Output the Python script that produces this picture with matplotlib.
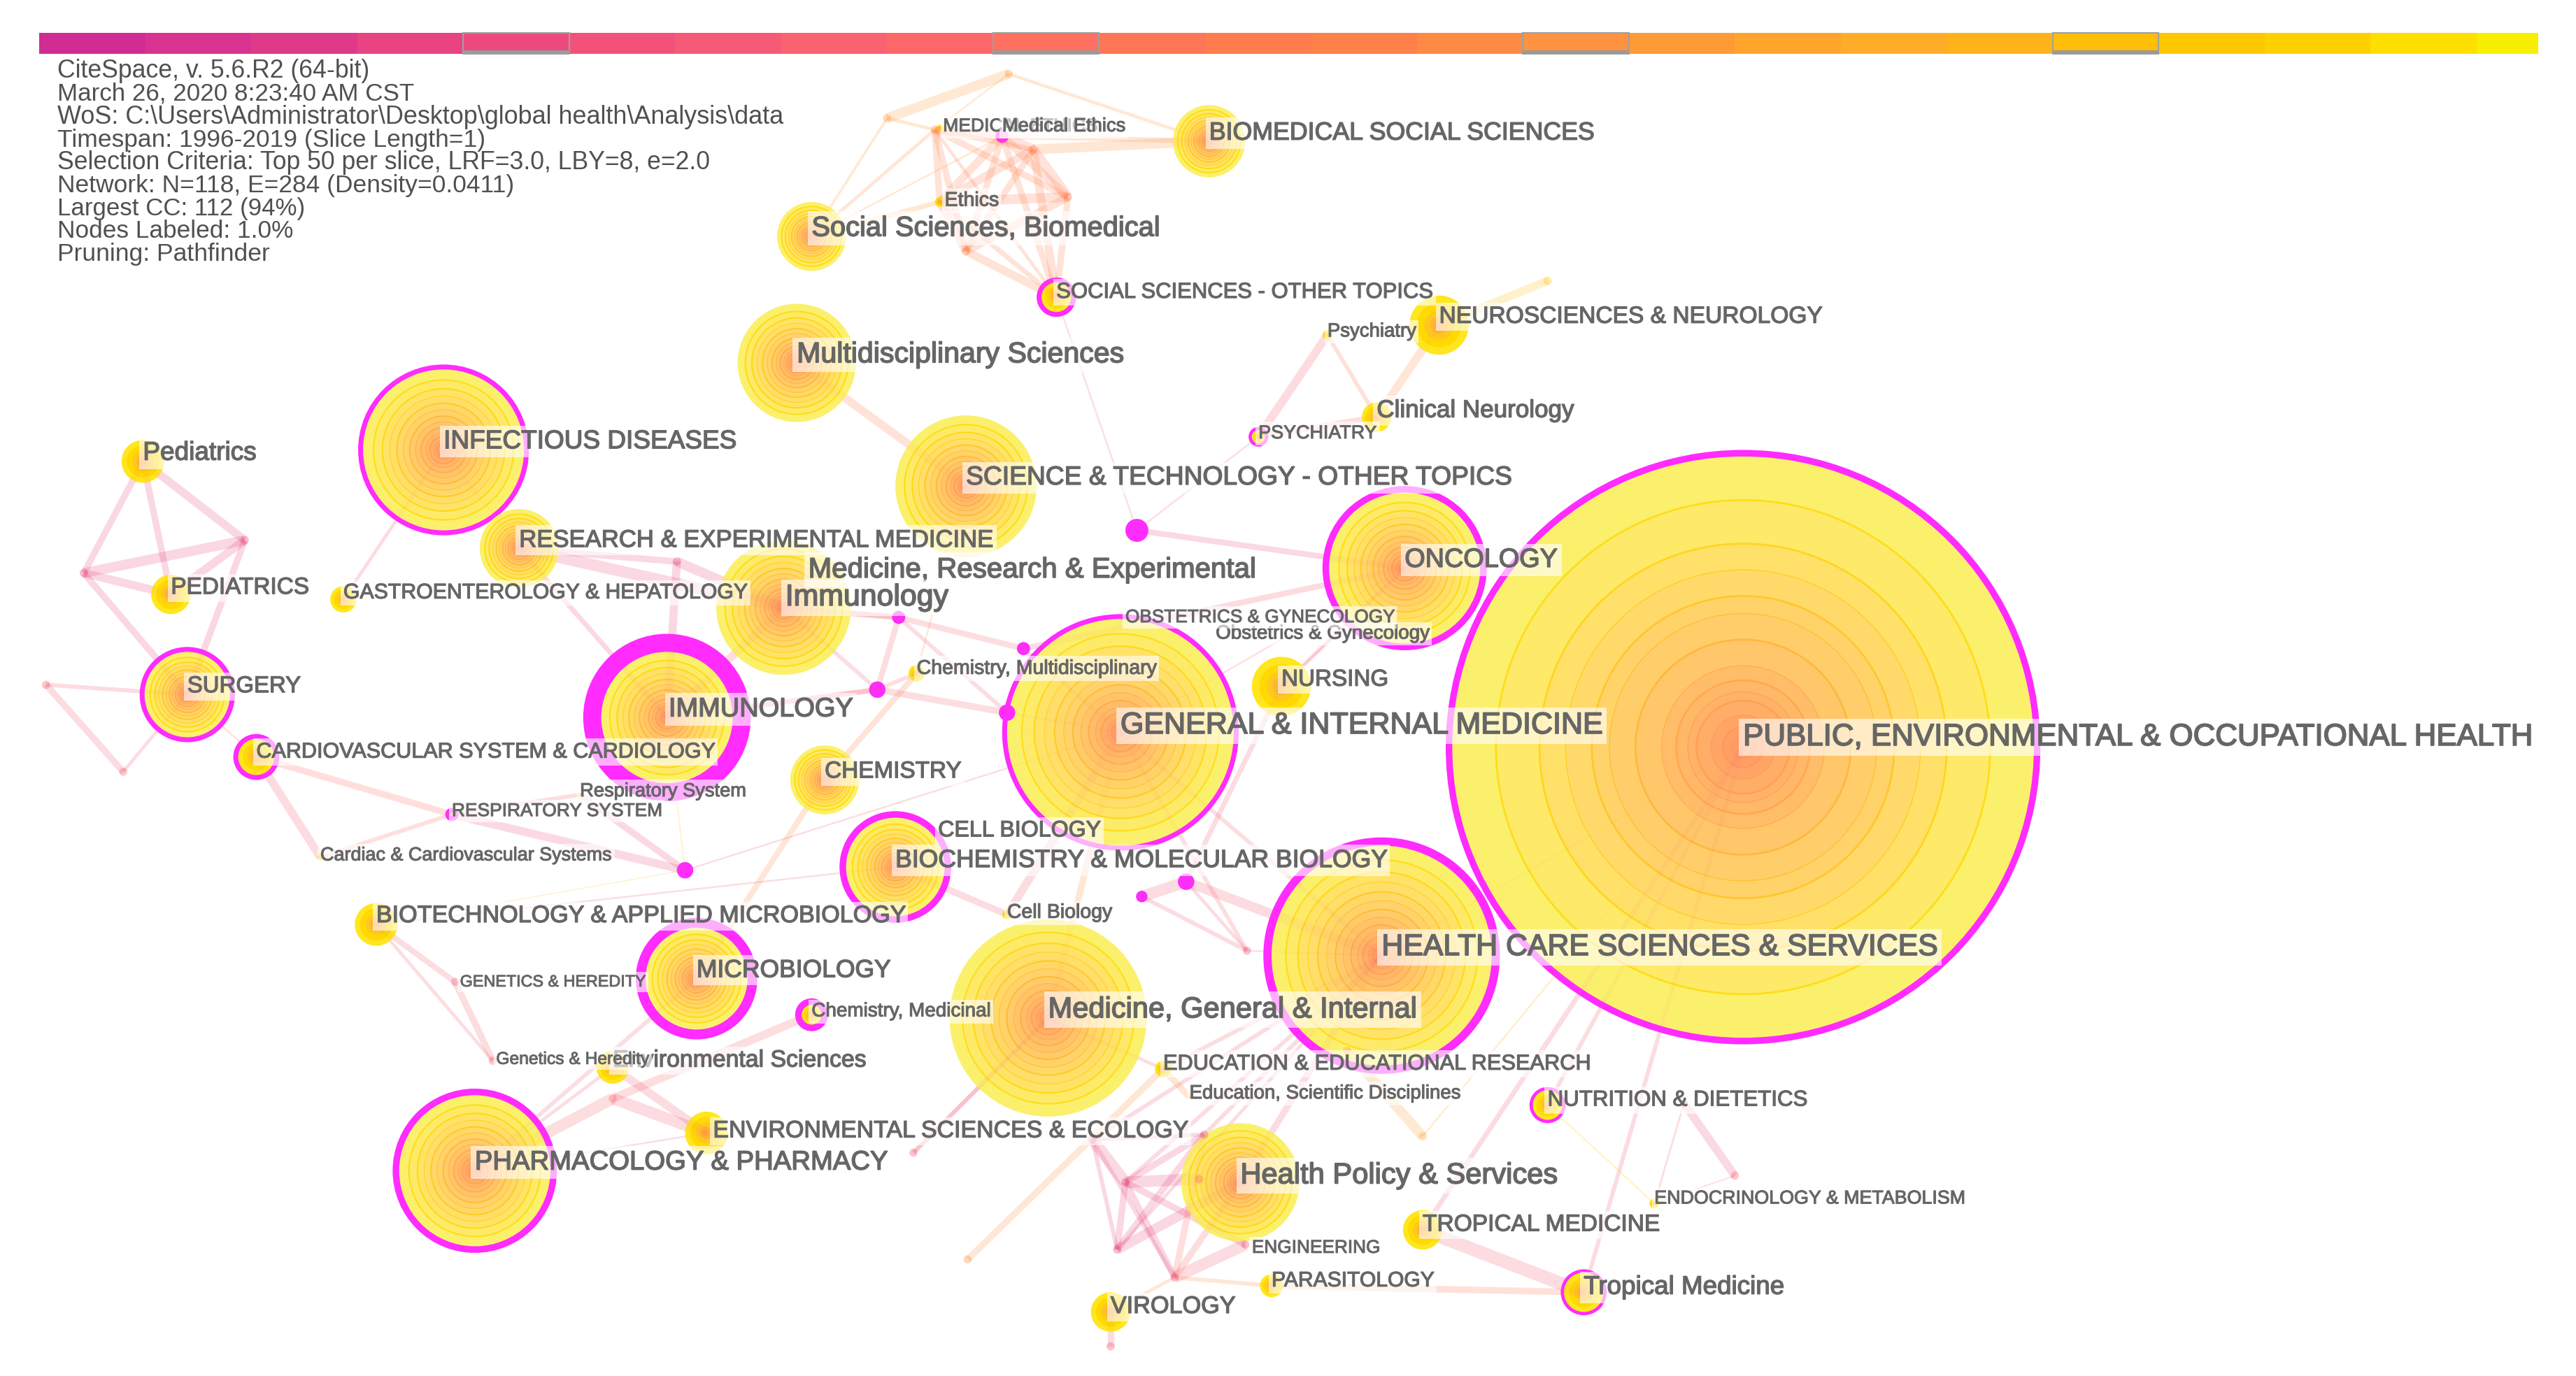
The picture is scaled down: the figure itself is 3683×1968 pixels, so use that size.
#!/usr/bin/env python3

import matplotlib
matplotlib.use("Agg")
import matplotlib.pyplot as plt
import matplotlib.patheffects as pe
from matplotlib.colors import LinearSegmentedColormap
from matplotlib.patches import Circle

plt.rcParams['font.family'] = ['Liberation Sans', 'DejaVu Sans']

# coordinates below in a 1568 x 838 frame
FRAME_W, FRAME_H = 1568, 838
PX = 3683 / FRAME_W * 72 / 100  # frame units -> points

years = list(range(1996, 2020))
year_colors = ['#D12C93', '#D93391', '#DF3A8A', '#E84481', '#EC4A7E', '#F2527A',
               '#F55A76', '#F86271', '#FC686A', '#FF7060', '#FF7558', '#FF7C4F',
               '#FF8049', '#FF8A43', '#FF9240', '#FF9B35', '#FFA52C', '#FFAD28',
               '#FFB31A', '#FFBE08', '#FFC700', '#FFD000', '#FFDF00', '#F8EE00']
framed_years = [2000, 2005, 2010, 2015]

info_lines = ['CiteSpace, v. 5.6.R2 (64-bit)',
              'March 26, 2020 8:23:40 AM CST',
              'WoS: C:\\Users\\Administrator\\Desktop\\global health\\Analysis\\data',
              'Timespan: 1996-2019 (Slice Length=1)',
              'Selection Criteria: Top 50 per slice, LRF=3.0, LBY=8, e=2.0',
              'Network: N=118, E=284 (Density=0.0411)',
              'Largest CC: 112 (94%)',
              'Nodes Labeled: 1.0%',
              'Pruning: Pathfinder']
info_y = [43.2, 57, 71.2, 85.4, 99, 113, 126.9, 140.7, 154.7]
info_right = [225, 252, 476, 295, 433, 313, 186, 178, 164]

# labelled nodes
node_names = ['PH', 'HC', 'GIM', 'MGI', 'HP', 'PHARM', 'IMMU', 'INF', 'ONC', 'STOT', 'MULTI',
              'REM', 'Immu', 'BIOCH', 'MICRO', 'SURG', 'CHEM', 'CARD', 'BIOTECH', 'SSB', 'BSS',
              'SSOT', 'NEURO', 'ClinN', 'Psy', 'PSY', 'Ped', 'PED', 'GASTRO', 'RESP', 'Resp',
              'CardS', 'NURS', 'ChemM', 'CellB', 'Env', 'ChemMed', 'ESE', 'EDU', 'EduS', 'NUTR',
              'ENDO', 'TROP', 'PARA', 'Trop', 'VIRO', 'Ethics', 'MEDE', 'MedE']
node_x = [1061, 841, 682, 638, 755, 289, 406, 270, 855, 588, 485,
          316, 477, 545, 424, 114, 502, 156, 229, 494, 736,
          643, 876, 838, 808, 766, 87, 104, 209, 275, 353,
          195, 780, 558, 613, 373, 494, 430, 708, 724, 942,
          1007, 866, 774, 964, 676, 572, 572, 610]
node_y = [455, 582, 446, 620, 720, 713, 437, 274, 346, 296, 221,
          334, 370, 528, 596, 423, 475, 461, 563, 144, 86,
          181, 198, 254, 204, 266, 281, 362, 365, 496, 484,
          522, 418, 410, 557, 650, 618, 690, 651, 668, 673,
          733, 749, 783, 787, 799, 123, 78, 83]
node_r = [181, 72, 72, 60, 36, 50, 51, 52, 50, 43, 36,
          24, 41, 34, 37, 29, 21, 14, 13, 21, 22,
          12, 18, 9, 3, 6, 13, 12, 8, 4, 1,
          2, 18, 5, 3, 10, 10, 13, 5, 1, 11,
          3, 12, 7, 14, 12, 3, 2, 4]
node_burst = [4, 5, 3, 0, 0, 4, 11, 3, 4, 0, 0,
              0, 0, 4, 6, 3, 0, 3, 0, 0, 0,
              3, 0, 0, 0, 2, 0, 0, 0, 3, 0,
              0, 0, 0, 0, 0, 4, 0, 0, 0, 2,
              0, 0, 0, 2, 0, 0, 0, 4]

# unlabelled purple nodes and the faint junction nodes
dot_names = ['d1', 'd2', 'd3', 'd4', 'd5', 'd6', 'd7', 'd8']
dot_x = [692, 547, 534, 623, 613, 417, 722, 695]
dot_y = [323, 376, 420, 395, 434, 530, 537, 546]
dot_r = [7, 4, 5, 4, 5, 5, 5, 3.5]

junction_names = ['a', 'b', 'c', 'e', 'f', 'h', 'p1', 'p2', 's1', 's2', 'r1', 'l1', 'g1', 'g2',
                  'k1', 'k2', 'k3', 'k4', 'k5', 'k6', 'k7', 'm1', 'm2', 'm3', 'v1', 'q1', 'q2',
                  'q3', 'n1', 'y1']
junction_x = [614, 540, 569, 629, 650, 588, 149, 51, 28, 75, 412, 373, 277, 300,
              665, 685, 680, 715, 733, 730, 758, 759, 556, 589, 676, 866, 1056, 1025,
              820, 942]
junction_y = [45, 72, 79, 91, 120, 153, 329, 349, 417, 470, 342, 669, 598, 646,
              694, 720, 761, 778, 691, 718, 758, 579, 702, 767, 820, 692, 716, 672,
              640, 171]
junction_slice = [15, 15, 14, 11, 11, 11, 4, 4, 7, 7, 4, 8, 7, 7, 4, 3, 3, 3, 5, 9, 5, 5, 6, 14, 6, 17, 7, 7, 15, 20]

# edges: from, to, width, time slice of first co-occurrence
edges_top = [('b', 'a', 6, 15), ('a', 'BSS', 2, 15), ('b', 'c', 2, 15), ('b', 'SSB', 1.5, 15),
             ('a', 'c', 1, 15), ('c', 'SSB', 2, 13), ('MedE', 'BSS', 3, 13), ('e', 'BSS', 6, 14),
             ('Ethics', 'SSB', 3, 15), ('MedE', 'SSB', 1, 15), ('c', 'MedE', 5, 12), ('c', 'e', 3, 12),
             ('c', 'f', 4, 12), ('c', 'Ethics', 4, 12), ('c', 'h', 4, 12), ('c', 'SSOT', 2, 12),
             ('MedE', 'e', 6, 11), ('MedE', 'f', 5, 11), ('MedE', 'Ethics', 5, 12), ('MedE', 'h', 4, 12),
             ('MedE', 'SSOT', 4, 12), ('e', 'f', 6, 11), ('e', 'Ethics', 5, 11), ('e', 'h', 4, 12),
             ('e', 'SSOT', 5, 12), ('f', 'Ethics', 6, 11), ('f', 'h', 5, 12), ('f', 'SSOT', 4, 12),
             ('Ethics', 'h', 5, 12), ('Ethics', 'SSOT', 3, 12), ('h', 'SSOT', 5, 12),
             ('MULTI', 'STOT', 5, 12), ('SSOT', 'd1', 1, 8), ('d1', 'PSY', 1, 8), ('d1', 'ONC', 3.5, 5),
             ('PSY', 'Psy', 5, 6), ('Psy', 'ClinN', 2.5, 10), ('PSY', 'ClinN', 3.5, 8), ('ClinN', 'NEURO', 5, 13),
             ('NEURO', 'y1', 5, 19)]

edges_left = [('Ped', 'p1', 5, 4), ('Ped', 'p2', 4, 4), ('Ped', 'PED', 4, 4), ('p1', 'p2', 6, 3),
              ('p2', 'PED', 5, 3), ('p1', 'PED', 5, 3), ('p2', 'SURG', 4, 3), ('p1', 'SURG', 4, 3),
              ('SURG', 's1', 2.5, 6), ('s1', 's2', 4, 6), ('s2', 'SURG', 2, 6), ('SURG', 'CARD', 1, 11),
              ('CARD', 'RESP', 4, 9), ('CARD', 'CardS', 5, 6), ('RESP', 'CardS', 2.5, 9), ('RESP', 'd6', 5, 5),
              ('RESP', 'Resp', 2.5, 7), ('d6', 'Resp', 4, 5), ('IMMU', 'd6', 0.8, 20), ('d6', 'BIOTECH', 0.6, 20),
              ('d6', 'GIM', 1, 7), ('INF', 'GASTRO', 2, 6), ('INF', 'REM', 1, 10),
              ('REM', 'Immu', 7, 5), ('REM', 'r1', 4, 5), ('r1', 'Immu', 6, 4), ('r1', 'IMMU', 5, 4),
              ('REM', 'IMMU', 3, 5), ('IMMU', 'Immu', 5, 7)]

edges_mid = [('Immu', 'd2', 3.5, 7), ('d2', 'd3', 3.5, 7), ('d2', 'd4', 3.5, 7), ('d2', 'd5', 2.5, 7),
             ('d3', 'Immu', 2.5, 7), ('d3', 'd5', 4, 7), ('d3', 'IMMU', 3.5, 7), ('d4', 'GIM', 2.5, 7),
             ('d4', 'ONC', 3.5, 6), ('d5', 'GIM', 1, 7), ('d2', 'Immu', 3, 7), ('IMMU', 'd3', 2.5, 7),
             ('CHEM', 'ChemM', 3.5, 12), ('ChemM', 'd3', 2.5, 9), ('ChemM', 'STOT', 1, 14),
             ('CHEM', 'MICRO', 3.5, 13), ('BIOCH', 'BIOTECH', 1, 7), ('BIOCH', 'CellB', 4, 6),
             ('GIM', 'CellB', 5, 6), ('GIM', 'MGI', 4, 14), ('d7', 'd8', 7, 6), ('d7', 'HC', 6, 6),
             ('d8', 'm1', 2.5, 6), ('d7', 'm1', 2, 6), ('GIM', 'm1', 2.5, 8), ('m1', 'HC', 1, 7),
             ('NURS', 'd7', 3, 6), ('NURS', 'ONC', 2.5, 7), ('GIM', 'ONC', 1, 9), ('ONC', 'NURS', 1, 7),
             ('GIM', 'HC', 2.5, 8)]

edges_low = [('PH', 'Trop', 2.5, 6), ('PH', 'TROP', 3, 6), ('PH', 'NUTR', 2.5, 7), ('PH', 'q1', 1, 18),
             ('PH', 'HC', 1, 11), ('HC', 'k1', 2.5, 6), ('HC', 'k2', 2.5, 6), ('HC', 'HP', 4, 6),
             ('HC', 'k5', 2.5, 6), ('HC', 'k3', 2, 6), ('HC', 'EDU', 2.5, 8), ('MGI', 'EDU', 2, 8),
             ('EDU', 'EduS', 4, 14), ('EDU', 'm3', 4, 14), ('MGI', 'm2', 2.5, 6), ('MGI', 'm2', 2.5, 7),
             ('k1', 'k2', 7, 5), ('k1', 'k3', 2.5, 4), ('k1', 'k5', 2.5, 5), ('k1', 'k4', 2.5, 4),
             ('k2', 'k5', 4, 4), ('k2', 'k6', 7, 4), ('k2', 'k3', 4, 3), ('k2', 'k4', 4, 3),
             ('k2', 'k7', 4, 3), ('k3', 'k5', 4, 3), ('k3', 'HP', 6, 3), ('k4', 'k7', 7, 6),
             ('k4', 'k5', 4, 9), ('k4', 'HP', 4, 8), ('VIRO', 'v1', 4, 6), ('VIRO', 'k4', 2, 14),
             ('PARA', 'k4', 2.5, 14), ('PARA', 'Trop', 4, 10), ('TROP', 'Trop', 8, 6),
             ('NUTR', 'ENDO', 1, 21), ('q3', 'q2', 5, 5), ('q3', 'ENDO', 1.2, 8), ('q2', 'ENDO', 0.8, 9),
             ('n1', 'q1', 6, 15), ('BIOTECH', 'g1', 3.5, 7), ('BIOTECH', 'g2', 2, 7), ('g1', 'g2', 4, 7),
             ('MICRO', 'PHARM', 2.5, 7), ('Env', 'PHARM', 2, 7), ('PHARM', 'l1', 7, 8), ('l1', 'ChemMed', 5, 8),
             ('l1', 'ESE', 7, 6), ('Env', 'ESE', 5, 6), ('PHARM', 'ESE', 1, 7)]

# label text, left end, middle height, right end; later ones lie on top of earlier ones
label_text = ['MEDICAL ETHICS', 'Environmental Sciences', 'Medical Ethics', 'Ethics',
              'Genetics & Heredity', 'GENETICS & HEREDITY', 'Cardiac & Cardiovascular Systems',
              'Respiratory System', 'RESPIRATORY SYSTEM', 'Obstetrics & Gynecology',
              'OBSTETRICS & GYNECOLOGY', 'Chemistry, Multidisciplinary', 'Cell Biology', 'CELL BIOLOGY',
              'Chemistry, Medicinal', 'Education, Scientific Disciplines', 'ENDOCRINOLOGY & METABOLISM',
              'ENGINEERING', 'PARASITOLOGY', 'PSYCHIATRY', 'Psychiatry', 'Clinical Neurology',
              'GASTROENTEROLOGY & HEPATOLOGY', 'SOCIAL SCIENCES - OTHER TOPICS',
              'NUTRITION & DIETETICS', 'EDUCATION & EDUCATIONAL RESEARCH', 'Pediatrics', 'PEDIATRICS',
              'VIROLOGY', 'NURSING', 'TROPICAL MEDICINE', 'Tropical Medicine',
              'ENVIRONMENTAL SCIENCES & ECOLOGY', 'BIOTECHNOLOGY & APPLIED MICROBIOLOGY',
              'CARDIOVASCULAR SYSTEM & CARDIOLOGY', 'CHEMISTRY', 'SURGERY', 'MICROBIOLOGY',
              'NEUROSCIENCES & NEUROLOGY', 'BIOMEDICAL SOCIAL SCIENCES', 'Social Sciences, Biomedical',
              'Multidisciplinary Sciences', 'RESEARCH & EXPERIMENTAL MEDICINE',
              'Medicine, Research & Experimental', 'Immunology', 'BIOCHEMISTRY & MOLECULAR BIOLOGY',
              'IMMUNOLOGY', 'INFECTIOUS DISEASES', 'ONCOLOGY', 'SCIENCE & TECHNOLOGY - OTHER TOPICS',
              'PHARMACOLOGY & PHARMACY', 'Health Policy & Services', 'Medicine, General & Internal',
              'GENERAL & INTERNAL MEDICINE', 'HEALTH CARE SCIENCES & SERVICES',
              'PUBLIC, ENVIRONMENTAL & OCCUPATIONAL HEALTH']
label_left = [574, 373, 610, 575, 302, 280, 195, 353, 275, 740, 685, 558, 613, 571, 494, 724, 1007,
              762, 774, 766, 808, 838, 209, 643, 942, 708, 87, 104, 676, 780, 866, 964, 434, 229,
              156, 502, 114, 424, 876, 736, 494, 485, 316, 492, 478, 545, 407, 270, 855, 588, 289,
              755, 638, 682, 841, 1061]
label_y = [77, 646, 77, 122, 645, 598, 521, 482, 494, 386, 376, 407, 556, 506, 616, 666, 730, 760, 780,
           264, 202, 250, 361, 178, 670, 648, 276, 358, 796, 414, 746, 784, 689, 558, 458, 470, 418,
           591, 193, 81, 139, 216, 329, 347, 364, 524, 432, 269, 341, 291, 708, 716, 615, 442, 577, 449]
label_right = [668, 527, 685, 608, 395, 393, 372, 454, 403, 870, 849, 704, 677, 670, 603, 889, 1196,
               840, 873, 838, 862, 958, 455, 872, 1100, 968, 156, 188, 752, 845, 1010, 1086, 723, 551,
               435, 585, 183, 542, 1109, 970, 706, 684, 604, 764, 577, 844, 519, 448, 948, 920, 540,
               948, 862, 975, 1179, 1541]

# tree ring radii as a share of the node radius
rings_large = [1.0, .85, .70, .61, .52, .46, .37, .28, .23, .19, .16, .11, .07, .04]
rings_normal = [1.0, .87, .76, .67, .58, .5, .42, .35, .28, .22, .17, .12, .08, .04]
rings_small = [1.0, .75, .5, .3, .15]

fill_big = LinearSegmentedColormap.from_list('fill_big', ['#FF9564', '#FFB468', '#FFCA6A', '#FFD96A',
                                                          '#FFE668', '#FBF06C'])
fill_small = LinearSegmentedColormap.from_list('fill_small', ['#FF9A40', '#FFB030', '#FFC820', '#FFD900',
                                                              '#FFE61E'])
line_big = LinearSegmentedColormap.from_list('line_big', ['#FF9060', '#FFA94A', '#FFC225', '#FFD80C',
                                                          '#FFE00A'])


def fit_text(ax, text, left, y, right, color, zorder):
    # font size is set from the width the label has in the picture
    t = ax.text(left, y, text, color=color, ha='left', va='center', fontsize=20, zorder=zorder)
    renderer = ax.figure.canvas.get_renderer()
    width = t.get_window_extent(renderer).width / 3683 * FRAME_W
    t.set_fontsize(20 * (right - left) / width)
    return t


def draw_node(ax, x, y, r, burst):
    if burst > 0:
        ax.add_patch(Circle((x, y), r, fc='#FF2BFF', ec='none', zorder=2))
    inner = r - burst
    if inner <= 0:
        return
    if r > 100:
        fracs, fill, lw = rings_large, fill_big, 2.0
    elif r >= 20:
        fracs, fill, lw = rings_normal, fill_big, 1.6
    else:
        fracs, fill, lw = rings_small, fill_small, 0
    for i, f in enumerate(fracs):
        ax.add_patch(Circle((x, y), inner * f, fc=fill(f), ec='none', zorder=2))
        if lw > 0 and f < 1:
            # every other ring is drawn fainter
            width = lw if i % 2 == 0 or f > .8 else lw * 0.5
            ax.add_patch(Circle((x, y), inner * f, fc='none', ec=line_big(f), lw=width,
                                alpha=0.85, zorder=2))


def main():
    fig = plt.figure(figsize=(36.83, 19.68), dpi=100)
    ax = fig.add_axes([0, 0, 1, 1])
    ax.set_xlim(0, FRAME_W)
    ax.set_ylim(FRAME_H, 0)
    ax.axis('off')
    fig.canvas.draw()

    # time slice bar
    bar_left, bar_end, step = 24, 1545, 64.5
    for i, (year, col) in enumerate(zip(years, year_colors)):
        x0 = bar_left + i * step
        w = min(step, bar_end - x0)
        ax.bar(x0, 13, w, bottom=20, align='edge', color=col, lw=0, zorder=1)
        if year in framed_years:
            ax.bar(x0, 13, w, bottom=20, align='edge', color='none', ec='#A0A0A0', lw=1.5, zorder=1.1)
            ax.bar(x0, 2.5, w, bottom=30.5, align='edge', color='#9A9A9A', lw=0, zorder=1.1)

    for line, y, right in zip(info_lines, info_y, info_right):
        fit_text(ax, line, 35, y, right, '#505050', 8)

    pos = {}
    for name, x, y in zip(node_names, node_x, node_y):
        pos[name] = (x, y)
    for name, x, y in zip(dot_names, dot_x, dot_y):
        pos[name] = (x, y)
    for name, x, y in zip(junction_names, junction_x, junction_y):
        pos[name] = (x, y)

    order = sorted(range(len(node_r)), key=lambda k: -node_r[k])
    for k in order:
        draw_node(ax, node_x[k], node_y[k], node_r[k], node_burst[k])
    for x, y, r in zip(dot_x, dot_y, dot_r):
        ax.add_patch(Circle((x, y), r, fc='#FF2BFF', ec='none', zorder=2))
    for x, y, s in zip(junction_x, junction_y, junction_slice):
        ax.add_patch(Circle((x, y), 2.5, fc=year_colors[s], ec='none', alpha=0.35, zorder=2))

    # edges sit under the nodes and show only faintly through them
    for a, b, w, s in edges_top + edges_left + edges_mid + edges_low:
        xa, ya = pos[a]
        xb, yb = pos[b]
        ax.plot([xa, xb], [ya, yb], color=year_colors[s], lw=w * PX, alpha=0.17,
                solid_capstyle='butt', zorder=1.5)
        ax.plot([xa, xb], [ya, yb], color=year_colors[s], lw=w * PX, alpha=0.05,
                solid_capstyle='butt', zorder=3)

    for text, left, y, right in zip(label_text, label_left, label_y, label_right):
        t = fit_text(ax, text, left, y, right, '#666666', 5)
        fs = t.get_fontsize()
        t.set_bbox(dict(fc='white', alpha=0.62, ec='none', pad=fs * 0.14))
        t.set_path_effects([pe.withStroke(linewidth=fs * 0.04, foreground='#666666')])

    fig.savefig('out.png', dpi=100, facecolor='white')


if __name__ == '__main__':
    main()
